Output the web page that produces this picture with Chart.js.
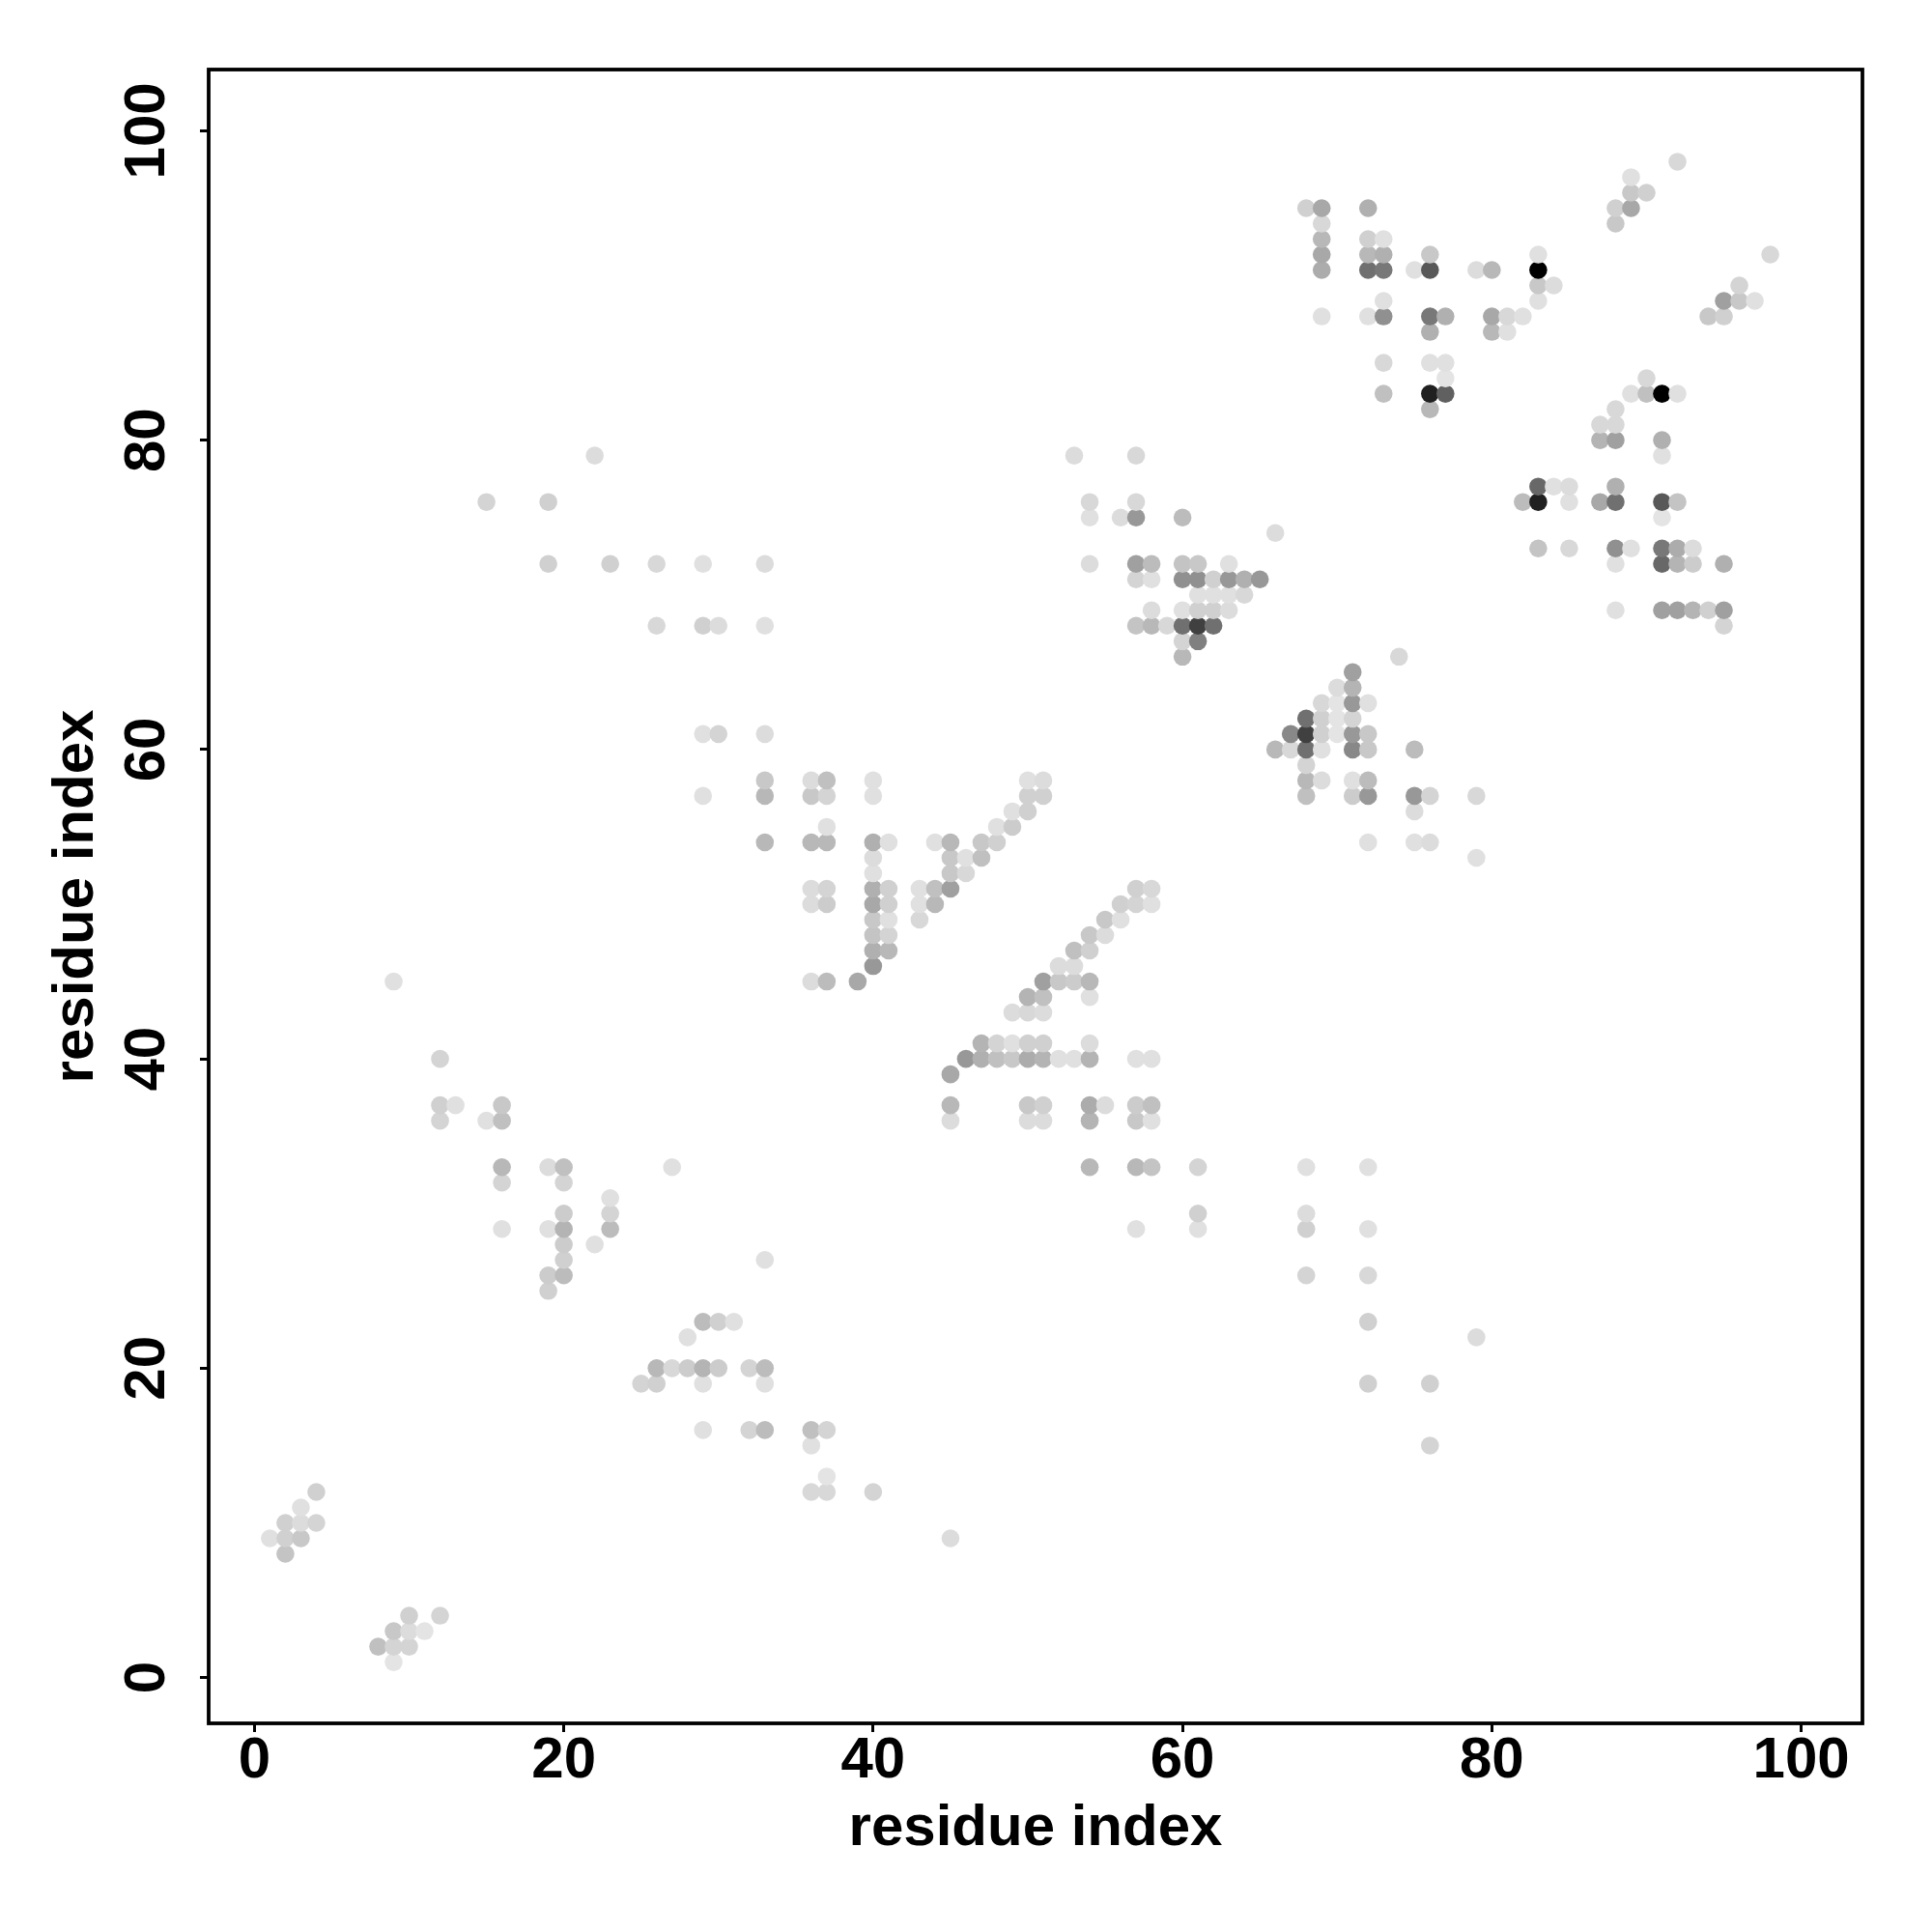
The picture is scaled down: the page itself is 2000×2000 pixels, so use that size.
<!DOCTYPE html>
<html>
<head>
<meta charset="utf-8">
<style>html,body{margin:0;padding:0;background:#fff}canvas{display:block}</style>
<script src="https://cdn.jsdelivr.net/npm/chart.js@4"></script>
</head>
<body>
<canvas id="c" width="2000" height="2000"></canvas>
<script>
const axisTicks = [0, 20, 40, 60, 80, 100];
const axisLabel = "residue index";
const rowY = [98,97,96,95,94,93,92,91,90,89,88,87,85,84,83,82,81,80,79,77,76,75,74,73,72,71,70,69,68,67,66,65,64,63,62,61,60,59,58,57,56,55,54,53,52,51,50,49,48,47,46,45,44,43,41,40,39,37,36,33,32,31,30,29,28,27,26,25,23,22,20,19,16,15,13,12,11,10,9,8,4,3,2,1];
const rowX = [
[92],[89],[89,90],[68,69,72,88,89],[69,88],[69,72,73],[69,72,73,76,83,98],[69,72,73,75,76,79,80,83],
[83,84,96],[73,83,95,96,97],[69,72,73,76,77,80,81,82,94,95],[76,80,81],[73,76,77],[77,90],[73,76,77,89,90,91,92],[76,88],
[87,88],[87,88,91],[22,53,57,91],[83,84,85,88],[15,19,54,57,82,83,85,87,88,91,92],[54,56,57,60,91],[66],[83,85,88,89,91,92,93],
[19,23,26,29,33,54,57,58,60,61,63,88,91,92,93,95],[57,58,60,61,62,63,64,65],[61,62,63,64],[58,60,61,62,63,88,91,92,93,94,95],
[26,29,30,33,57,58,59,60,61,62,95],[60,61],[60,74],[71],[70,71],[69,70,71,72],[68,69,70,71],[29,30,33,67,68,69,70,71,72],
[66,67,68,69,71,72,75],[68],[33,36,37,40,50,51,68,69,71,72],[29,33,36,37,40,50,51,68,71,72,75,76,79],[49,50,75],[37,48,49],
[33,36,37,40,41,44,45,47,48,72,75,76],[40,45,46,47,79],[40,45,46],[36,37,40,41,43,44,45,57,58],[36,37,40,41,43,44,56,57,58],
[40,41,43,55,56],[40,41,54,55],[40,41,53,54],[40,52,53],[9,36,37,39,51,52,53,54],[50,51,54],[49,50,51],[47,48,49,50,51,54],
[12,46,47,48,49,50,51,52,53,54,57,58],[45],[12,13,16,45,50,51,54,55,57,58],[12,15,16,45,50,51,54,57,58],
[16,19,20,27,54,57,58,61,68,72],[16,20],[23],[20,23,61,68],[16,19,20,23,57,61,68,72],[20,22],[20,33],[19,20,68,72],[19],
[29,30,31,72],[28,79],[26,27,28,29,30,32,33],[25,26,29,33,72,76],[29,32,33,36,37],[36,76],[37],[4,36,37,40],[3],[2,3,4],
[1,2,3,45],[2],[10,12],[9,10,11],[8,9,10],[9]
];
const rowScore = [
[39],[31],[55,47],[47,87,79,47,87],[39,55],[71,47,31],[87,71,79,55,31,39],[83,143,135,31,167,35,71,255],
[55,35,43],[31,31,95,55,31],[31,31,111,135,79,87,39,31,55,47],[79,71,31],[39,31,31],[27,39],[63,223,159,31,63,255,31],[71,39],
[39,39],[75,95,79],[35,35,39,31],[151,31,35,79],[43,47,39,39,67,223,31,87,143,167,59],[31,35,103,67,27],[35],[59,39,111,31,135,83,35],
[47,47,39,31,35,35,95,67,59,55,31,31,151,75,51,79],[43,31,111,111,47,103,79,103],[31,31,31,39],[35,31,47,47,35,31,95,95,75,47,95],
[39,47,35,31,59,71,39,143,191,143,43],[43,127],[71,39],[95],[35,75],[39,27,103,31],[143,47,27,43],[31,43,35,119,191,47,27,103,55],
[71,39,143,31,119,55,67],[43],[55,35,63,31,31,35,71,35,31,67],[31,71,55,43,31,47,47,63,51,103,103,43,39],[31,47,35],[31,31,51],
[71,71,71,79,31,31,71,55,47,31,31,35],[35,55,31,63,31],[31,55,39],[35,43,79,47,31,63,95,47,39],[35,51,87,47,31,71,47,43,31],
[55,31,39,55,31],[59,43,55,35],[79,71,63,47],[103,35,35],[31,35,67,87,95,55,51,71],[75,63,31],[35,39,35],[75,43,31,47,47,35],
[43,103,79,63,55,83,75,31,31,75,31,31],[87],[47,31,55,71,55,47,83,35,51,63],[43,31,63,35,35,35,75,55,31],
[71,35,63,31,71,71,59,43,31,31],[43,43],[31],[51,43,47,35],[31,31,75,67,31,31,47,31],[51,31],[47,31],[51,67,43,39],[47],
[67,47,31,47],[31,35],[71,39,51,75,51,43,67],[43,47,31,31,47,47],[31,43,67,63,43],[31,43],[27],[47,39,39,43],[31],[47,35,43],
[31,47,55,35],[59],[47,43],[55,35,27],[63,43,43],[27]
];

const points = rowY.flatMap((y, r) => rowX[r].map((x, k) => ({ x, y, score: rowScore[r][k] })));
points.sort((a, b) => a.x - b.x || a.y - b.y);
const grey = s => { const g = 255 - s; return `rgb(${g},${g},${g})`; };

const frame = {
  id: "frame",
  afterDraw(chart) {
    const { ctx, chartArea: a } = chart;
    ctx.save();
    ctx.strokeStyle = "#000";
    ctx.lineWidth = 3.8;
    ctx.lineJoin = "miter";
    ctx.strokeRect(a.left, a.top, a.right - a.left, a.bottom - a.top);
    ctx.restore();
  }
};

const fontFamily = '"Liberation Sans", Arial, sans-serif';
const setTicks = s => { s.ticks = axisTicks.map(v => ({ value: v })); };
const gridOpts = { display: true, drawOnChartArea: false, drawTicks: true, tickLength: 9, tickWidth: 3, tickColor: "#000" };

new Chart(document.getElementById("c"), {
  type: "scatter",
  data: {
    datasets: [{
      data: points.map(p => ({ x: p.x, y: p.y })),
      pointRadius: 9.3,
      pointHoverRadius: 9.3,
      pointBorderWidth: 0,
      pointBackgroundColor: points.map(p => grey(p.score)),
      showLine: false
    }]
  },
  options: {
    responsive: false,
    animation: false,
    devicePixelRatio: 1,
    layout: { autoPadding: false, padding: { top: 72, right: 72, left: 0, bottom: 0 } },
    plugins: { legend: { display: false }, tooltip: { enabled: false }, title: { display: false } },
    scales: {
      x: {
        type: "linear", position: "bottom", min: -2.96, max: 103.96,
        afterBuildTicks: setTicks,
        afterFit: s => { s.height = 216; },
        grid: gridOpts, border: { display: false },
        ticks: { color: "#000", font: { family: fontFamily, size: 60, weight: "bold" }, padding: -6, maxRotation: 0, minRotation: 0, autoSkip: false, includeBounds: false, callback: v => String(v) },
        title: { display: true, text: axisLabel, color: "#000", font: { family: fontFamily, size: 60, weight: "bold" }, padding: { top: 0, bottom: 71 } }
      },
      y: {
        type: "linear", position: "left", min: -2.96, max: 103.96,
        afterBuildTicks: setTicks,
        afterFit: s => { s.width = 216; },
        grid: gridOpts, border: { display: false },
        ticks: { color: "#000", font: { family: fontFamily, size: 60, weight: "bold" }, padding: 3, minRotation: 90, maxRotation: 90, crossAlign: "center", autoSkip: false, includeBounds: false, callback: v => String(v) },
        title: { display: true, text: axisLabel, color: "#000", font: { family: fontFamily, size: 60, weight: "bold" }, padding: { top: 43, bottom: 0 } }
      }
    }
  },
  plugins: [frame]
});
</script>
</body>
</html>
